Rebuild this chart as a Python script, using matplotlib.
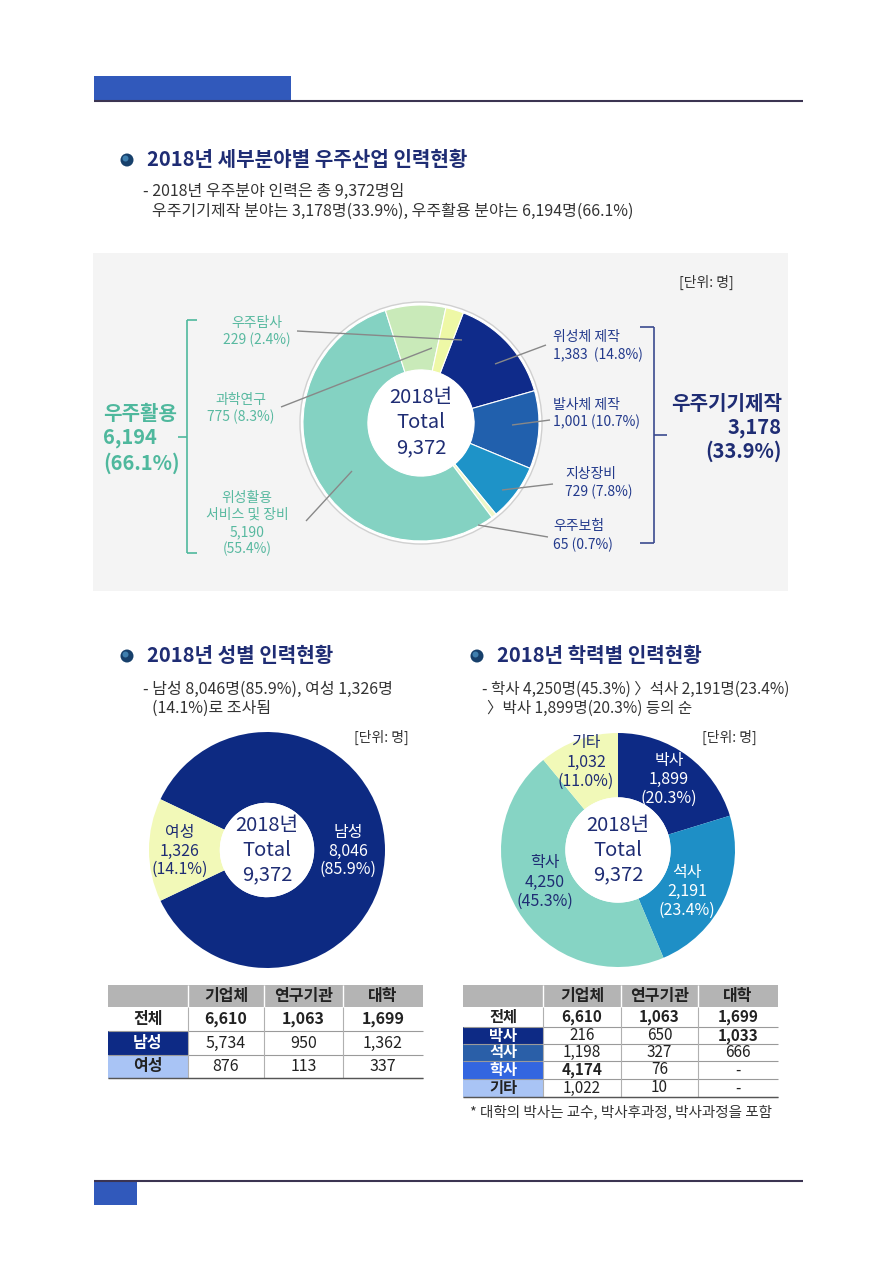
import numpy as np
import matplotlib.pyplot as plt
from matplotlib.patches import Rectangle, Circle

plt.rcParams['font.family'] = ['Noto Sans CJK KR', 'DejaVu Sans']

W, H = 893, 1262

# ---- data ----
field_names = ['위성체 제작', '발사체 제작', '지상장비', '우주보험', '위성활용 서비스 및 장비', '과학연구', '우주탐사']
field_values = [1383, 1001, 729, 65, 5190, 775, 229]
field_pcts = [14.8, 10.7, 7.8, 0.7, 55.4, 8.3, 2.4]
field_colors = ['#0f2b8a', '#2160ad', '#1e93c8', '#eef7c8', '#84d2c2', '#c9eab9', '#eef8a6']

gender_names = ['남성', '여성']
gender_values = [8046, 1326]
gender_pcts = [85.9, 14.1]
gender_colors = ['#0d2a82', '#f2f9b8']

edu_names = ['박사', '석사', '학사', '기타']
edu_values = [1899, 2191, 4250, 1032]
edu_pcts = [20.3, 23.4, 45.3, 11.0]
edu_colors = ['#0d2a85', '#1e8fc6', '#86d4c4', '#f1f9b8']

table_cols = ['기업체', '연구기관', '대학']
gender_rows = ['전체', '남성', '여성']
gender_table = [[6610, 1063, 1699], [5734, 950, 1362], [876, 113, 337]]
edu_rows = ['전체', '박사', '석사', '학사', '기타']
edu_table = [[6610, 1063, 1699], [216, 650, 1033], [1198, 327, 666], [4174, 76, None], [1022, 10, None]]

total = 9372

navy = '#1f2d74'
teal = '#4fb89d'
dark = '#333333'

fig = plt.figure(figsize=(W / 100, H / 100), dpi=100)
ax = fig.add_axes([0, 0, 1, 1])


def Y(y):
    return H - y


def txt(x, y, s, size=10, color=dark, ha='left', weight='normal', va='center'):
    ax.text(x, Y(y), s, fontsize=size, color=color, ha=ha, va=va, fontweight=weight, zorder=6)


def line(xs, ys, color='#888888', lw=1.0):
    ax.plot(xs, [Y(v) for v in ys], color=color, lw=lw, zorder=5, solid_capstyle='butt')


def donut(cx, cy, r, vals, colors, start, hole, lw=0.8):
    ax.pie(vals, colors=colors, startangle=start, counterclock=False,
           center=(cx, Y(cy)), radius=r,
           wedgeprops=dict(width=r * (1 - hole), edgecolor='white', linewidth=lw))
    ax.add_patch(Circle((cx, Y(cy)), r * hole, facecolor='white', edgecolor='none', zorder=3))


def center_text(cx, cy, size=14.5):
    txt(cx, cy - 25, '2018년', size, navy, 'center')
    txt(cx, cy, 'Total', size, navy, 'center')
    txt(cx, cy + 25, f'{total:,}', size, navy, 'center')


def bullet(x, y):
    ax.add_patch(Circle((x, Y(y)), 6.5, facecolor='#17406b', edgecolor='none', zorder=5))
    ax.add_patch(Circle((x - 1.5, Y(y) + 1.5), 3, facecolor='#3f7fae', edgecolor='none', zorder=5))


# ---- page frame ----
ax.add_patch(Rectangle((94, Y(100)), 197, 24, facecolor='#3159bb', edgecolor='none'))
line([94, 803], [100.5, 100.5], '#3b3452', 1.5)
ax.add_patch(Rectangle((94, Y(1205)), 43, 24, facecolor='#3159bb', edgecolor='none'))
line([94, 803], [1181, 1181], '#3b3452', 1.5)

# ---- section 1 ----
bullet(127, 160)
txt(147, 160, '2018년 세부분야별 우주산업 인력현황', 14.5, navy, weight='bold')
txt(143, 191, '- 2018년 우주분야 인력은 총 9,372명임', 11.5, dark)
txt(152, 211, '우주기기제작 분야는 3,178명(33.9%), 우주활용 분야는 6,194명(66.1%)', 11.5, dark)

ax.add_patch(Rectangle((93, Y(591)), 695, 338, facecolor='#f4f4f4', edgecolor='none', zorder=0))
txt(706, 282, '[단위: 명]', 10, dark, 'center')

cx1, cy1, r1 = 421, 423, 118
ax.add_patch(Circle((cx1, Y(cy1)), r1 + 3, facecolor='white', edgecolor='#d0d0d0', lw=1, zorder=0.5))
donut(cx1, cy1, r1, field_values, field_colors, 69, 0.45)
center_text(cx1, cy1, 14.5)

# left group labels (space utilisation)
lbl_teal = '#58b9a0'
txt(257, 323, field_names[6], 10, lbl_teal, 'center')
txt(257, 340, f'{field_values[6]} ({field_pcts[6]}%)', 10, lbl_teal, 'center')
line([297, 462], [331, 340])
txt(241, 400, field_names[5], 10, lbl_teal, 'center')
txt(241, 417, f'{field_values[5]} ({field_pcts[5]}%)', 10, lbl_teal, 'center')
line([281, 432], [407, 348])
txt(247, 498, '위성활용', 10, lbl_teal, 'center')
txt(247, 515, '서비스 및 장비', 10, lbl_teal, 'center')
txt(247, 532, f'{field_values[4]:,}', 10, lbl_teal, 'center')
txt(247, 549, f'({field_pcts[4]}%)', 10, lbl_teal, 'center')
line([306, 352], [521, 471])

# left brace
line([187, 187], [320, 553], teal, 1.2)
line([187, 197], [320, 320], teal, 1.2)
line([187, 197], [553, 553], teal, 1.2)
line([178, 187], [437, 437], teal, 1.2)
txt(103, 413, '우주활용', 14.5, teal, weight='bold')
txt(103, 438, f'{sum(field_values[4:]):,}', 14.5, teal, weight='bold')
txt(103, 463, '(66.1%)', 14.5, teal, weight='bold')

# right group labels (manufacturing)
lbl_navy = '#233a8c'
txt(553, 337, field_names[0], 10, lbl_navy)
txt(553, 355, f'{field_values[0]:,}  ({field_pcts[0]}%)', 10, lbl_navy)
line([546, 495], [345, 364])
txt(553, 405, field_names[1], 10, lbl_navy)
txt(553, 422, f'{field_values[1]:,} ({field_pcts[1]}%)', 10, lbl_navy)
line([550, 512], [420, 425])
txt(565, 474, field_names[2], 10, lbl_navy)
txt(565, 492, f'{field_values[2]} ({field_pcts[2]}%)', 10, lbl_navy)
line([553, 502], [484, 490])
txt(553, 526, field_names[3], 10, lbl_navy)
txt(553, 545, f'{field_values[3]} ({field_pcts[3]}%)', 10, lbl_navy)
line([548, 478], [537, 525])

brace_navy = '#3a4a8e'
line([654, 654], [327, 543], brace_navy, 1.2)
line([640, 654], [327, 327], brace_navy, 1.2)
line([640, 654], [543, 543], brace_navy, 1.2)
line([654, 667], [435, 435], brace_navy, 1.2)
txt(782, 403, '우주기기제작', 14.5, navy, 'right', 'bold')
txt(782, 427, f'{sum(field_values[:4]):,}', 14.5, navy, 'right', 'bold')
txt(782, 451, '(33.9%)', 14.5, navy, 'right', 'bold')

# ---- section 2: gender ----
bullet(127, 656)
txt(147, 656, '2018년 성별 인력현황', 14.5, navy, weight='bold')
txt(143, 689, '- 남성 8,046명(85.9%), 여성 1,326명', 11.5, dark)
txt(152, 708, '(14.1%)로 조사됨', 11.5, dark)
txt(381, 737, '[단위: 명]', 10, dark, 'center')

cx2, cy2, r2 = 267, 850, 118
start2 = 180 - 360 * gender_values[1] / sum(gender_values) / 2
donut(cx2, cy2, r2, gender_values, gender_colors, start2, 0.40, lw=0)
center_text(cx2, cy2)
txt(348, 833, gender_names[0], 11.5, 'white', 'center')
txt(348, 851, f'{gender_values[0]:,}', 11.5, 'white', 'center')
txt(348, 869, f'({gender_pcts[0]}%)', 11.5, 'white', 'center')
txt(180, 833, gender_names[1], 11.5, navy, 'center')
txt(180, 851, f'{gender_values[1]:,}', 11.5, navy, 'center')
txt(180, 869, f'({gender_pcts[1]}%)', 11.5, navy, 'center')

# ---- section 3: education ----
bullet(477, 656)
txt(497, 656, '2018년 학력별 인력현황', 14.5, navy, weight='bold')
txt(482, 689, '- 학사 4,250명(45.3%) 〉석사 2,191명(23.4%)', 11.2, dark)
txt(487, 708, '〉박사 1,899명(20.3%) 등의 순', 11.2, dark)
txt(729, 737, '[단위: 명]', 10, dark, 'center')

cx3, cy3, r3 = 618, 850, 117
donut(cx3, cy3, r3, edu_values, edu_colors, 90, 0.45, lw=0)
center_text(cx3, cy3)
edu_pos = [(669, 760, 'white'), (687, 872, 'white'), (545, 863, navy), (586, 743, navy)]
for (x, y, c), n, v, p in zip(edu_pos, edu_names, edu_values, edu_pcts):
    txt(x, y, n, 11.5, c, 'center')
    txt(x, y + 19, f'{v:,}', 11.5, c, 'center')
    txt(x, y + 38, f'({p}%)', 11.5, c, 'center')


# ---- tables ----
def table(x0, col_x, row_y, head_y, rows, data, label_colors, label_text, bold_cells, fs):
    x_end = col_x[-1]
    ax.add_patch(Rectangle((x0, Y(row_y[0])), x_end - x0, row_y[0] - head_y,
                           facecolor='#b4b4b4', edgecolor='none', zorder=1))
    for i, c in enumerate(table_cols):
        xa, xb = col_x[i], col_x[i + 1]
        txt((xa + xb) / 2, (head_y + row_y[0]) / 2, c, 11.5, '#222222', 'center', 'bold')
        line([xa, xa], [head_y, row_y[0]], 'white', 1)
    for r, name in enumerate(rows):
        ya, yb = row_y[r], row_y[r + 1]
        ym = (ya + yb) / 2
        ax.add_patch(Rectangle((x0, Y(yb)), col_x[0] - x0, yb - ya,
                               facecolor=label_colors[r], edgecolor='none', zorder=1))
        txt((x0 + col_x[0]) / 2, ym, name, fs, label_text[r], 'center', 'bold')
        for i, v in enumerate(data[r]):
            s = '-' if v is None else f'{v:,}'
            w = 'bold' if (r == 0 or (r, i) in bold_cells) else 'normal'
            txt((col_x[i] + col_x[i + 1]) / 2, ym, s, fs, '#222222', 'center', w)
        line([x0, x_end], [yb, yb], '#9a9a9a', 0.8)
    for xa in col_x[:-1]:
        line([xa, xa], [row_y[0], row_y[-1]], '#b0b0b0', 0.8)
    line([x0, x_end], [row_y[-1], row_y[-1]], '#555555', 1.0)


table(108, [188, 264, 343, 423], [1007, 1031, 1055, 1078], 985, gender_rows, gender_table,
      ['white', '#0d2a85', '#a9c4f5'], ['#222222', 'white', '#222222'], set(), 11.5)
table(463, [543, 621, 698, 778], [1007, 1027, 1044, 1061, 1079, 1097], 985, edu_rows, edu_table,
      ['white', '#0d2a85', '#2a5fa8', '#3366e0', '#a9c4f5'],
      ['#222222', 'white', 'white', 'white', '#222222'], {(1, 2), (3, 0)}, 11)
txt(470, 1112, '* 대학의 박사는 교수, 박사후과정, 박사과정을 포함', 10.5, dark)

ax.set_xlim(0, W)
ax.set_ylim(0, H)
ax.axis('off')
fig.savefig('out.png', dpi=100, facecolor='white')
